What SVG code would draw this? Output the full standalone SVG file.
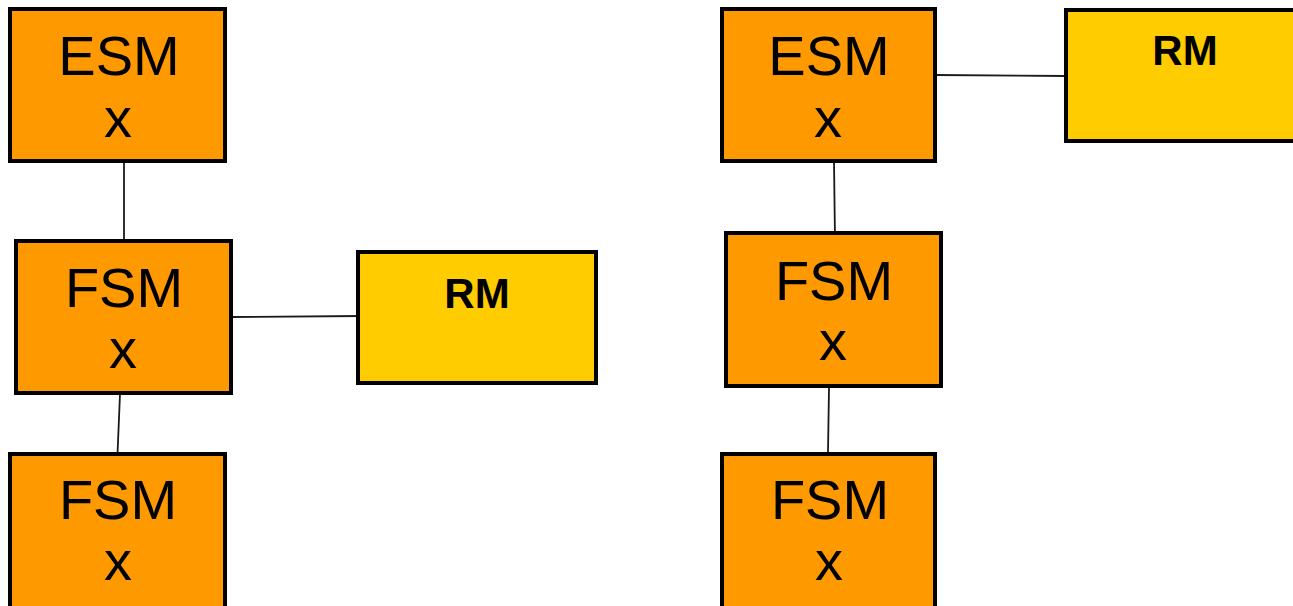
<svg xmlns="http://www.w3.org/2000/svg" width="1293" height="606" viewBox="0 0 1293 606">
<style>
.sm{fill:#FF9900;stroke:#000;stroke-width:4}
.rm{fill:#FFCC00;stroke:#000;stroke-width:4}
.t{font-family:"Liberation Sans",Arial,sans-serif;font-size:56px;fill:#000;text-anchor:middle}
.b{font-family:"Liberation Sans",Arial,sans-serif;font-size:42px;font-weight:bold;fill:#000;text-anchor:middle}
.c{stroke:#1a1a1a;stroke-width:1.8;fill:none}
</style>
<rect width="1293" height="606" fill="#fff"/>
<g id="connectors">
<line class="c" x1="124" y1="157" x2="124" y2="248"/>
<line class="c" x1="231" y1="317" x2="362" y2="316"/>
<line class="c" x1="120" y1="394" x2="117" y2="466"/>
<line class="c" x1="935" y1="75" x2="1066" y2="76"/>
<line class="c" x1="834" y1="161" x2="835" y2="240"/>
<line class="c" x1="829" y1="388" x2="828" y2="452"/>
</g>
<g id="esm-left">
<rect class="sm" x="10" y="9" width="215" height="152"/>
<text class="t" x="119" y="75">ESM</text>
<text class="t" x="118" y="137">x</text>
</g>
<g id="fsm-left-mid">
<rect class="sm" x="16" y="241" width="215" height="152"/>
<text class="t" x="124" y="307">FSM</text>
<text class="t" x="123" y="368">x</text>
</g>
<g id="rm-left">
<rect class="rm" x="358" y="252" width="238" height="131"/>
<text class="b" x="477" y="308">RM</text>
</g>
<g id="fsm-left-bottom">
<rect class="sm" x="10" y="454" width="215" height="160"/>
<text class="t" x="118" y="519">FSM</text>
<text class="t" x="118" y="580">x</text>
</g>
<g id="esm-right">
<rect class="sm" x="722" y="9" width="213" height="152"/>
<text class="t" x="829" y="75">ESM</text>
<text class="t" x="828" y="137">x</text>
</g>
<g id="rm-right">
<rect class="rm" x="1066" y="10" width="240" height="131"/>
<text class="b" x="1185" y="65">RM</text>
</g>
<g id="fsm-right-mid">
<rect class="sm" x="726" y="233" width="215" height="153"/>
<text class="t" x="834" y="300">FSM</text>
<text class="t" x="833" y="360">x</text>
</g>
<g id="fsm-right-bottom">
<rect class="sm" x="722" y="454" width="213" height="160"/>
<text class="t" x="830" y="519">FSM</text>
<text class="t" x="829" y="580">x</text>
</g>
</svg>
